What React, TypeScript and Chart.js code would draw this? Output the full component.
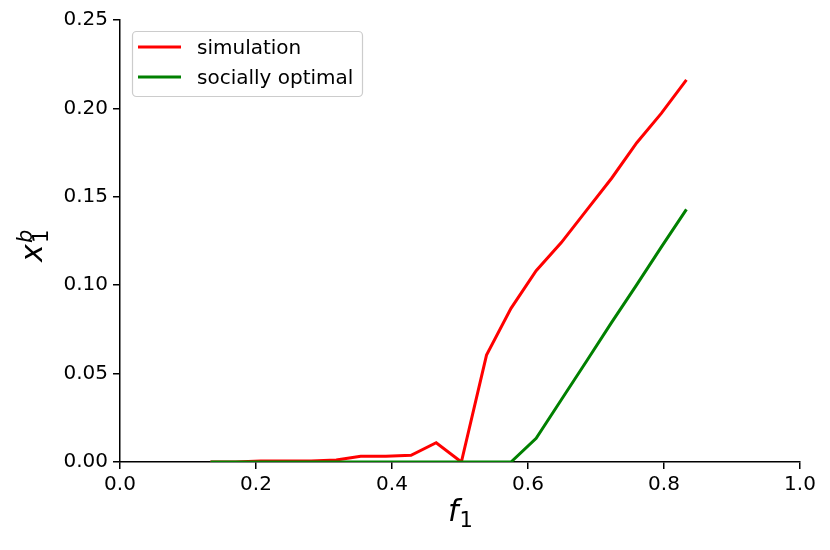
import React, { useEffect, useRef } from 'react';
import { Chart, ChartConfiguration, registerables } from 'chart.js';

Chart.register(...registerables);

// f_1 sample points (x axis)
const fValues = [
  0.133, 0.170, 0.207, 0.244, 0.281, 0.318, 0.354, 0.391, 0.428, 0.465,
  0.502, 0.539, 0.575, 0.612, 0.649, 0.686, 0.723, 0.760, 0.796, 0.833,
];

// x_1^b from the simulation
const simulation = [
  0, 0, 0.0005, 0.0005, 0.0005, 0.0011, 0.0032, 0.0032, 0.0038, 0.0109,
  0, 0.0605, 0.0869, 0.1082, 0.1241, 0.1423, 0.1605, 0.1806, 0.1972, 0.2161,
];

// x_1^b, socially optimal
const sociallyOptimal = [
  0, 0, 0, 0, 0, 0, 0, 0, 0, 0,
  0, 0, 0, 0.0134, 0.0352, 0.057, 0.079, 0.1003, 0.1215, 0.1429,
];

const seriesNames = ['simulation', 'socially optimal'];
const seriesColors = ['#ff0000', '#008000'];

const xTicks = [0, 0.2, 0.4, 0.6, 0.8, 1.0];
const yTicks = [0, 0.05, 0.1, 0.15, 0.2, 0.25];

const FONT = "'DejaVu Sans', sans-serif";

const toPoints = (ys: number[]) => fValues.map((x, i) => ({ x, y: ys[i] }));

const App: React.FC = () => {
  const canvasRef = useRef<HTMLCanvasElement | null>(null);
  const chartRef = useRef<Chart | null>(null);

  useEffect(() => {
    if (!canvasRef.current) return;
    const ctx = canvasRef.current.getContext('2d');
    if (!ctx) return;

    if (chartRef.current) chartRef.current.destroy();

    const axisGrid = {
      display: true,
      drawOnChartArea: false,
      drawTicks: true,
      tickLength: 7,
      color: '#000',
      lineWidth: 1.5,
    };

    const config: ChartConfiguration = {
      type: 'line',
      data: {
        datasets: [
          {
            label: seriesNames[0],
            data: toPoints(simulation),
            borderColor: seriesColors[0],
            borderWidth: 3,
            pointRadius: 0,
            tension: 0,
            fill: false,
            order: 1,
          },
          {
            label: seriesNames[1],
            data: toPoints(sociallyOptimal),
            borderColor: seriesColors[1],
            borderWidth: 3,
            pointRadius: 0,
            tension: 0,
            fill: false,
            order: 0,
          },
        ],
      },
      options: {
        animation: false,
        responsive: true,
        maintainAspectRatio: false,
        layout: { padding: { top: 20, right: 30, left: 0, bottom: 0 } },
        plugins: {
          legend: { display: false },
          tooltip: { enabled: false },
        },
        scales: {
          x: {
            type: 'linear',
            min: 0,
            max: 1,
            z: 1,
            afterFit: (scale: any) => {
              scale.height = 88;
            },
            afterBuildTicks: (scale: any) => {
              scale.ticks = xTicks.map(v => ({ value: v }));
            },
            grid: axisGrid,
            border: { display: true, color: '#000', width: 1.5 },
            ticks: {
              color: '#000',
              padding: 4,
              font: { family: FONT, size: 20 },
              callback: (v: any) => Number(v).toFixed(1),
            },
          },
          y: {
            type: 'linear',
            min: 0,
            max: 0.25,
            z: 1,
            afterFit: (scale: any) => {
              scale.width = 120;
            },
            afterBuildTicks: (scale: any) => {
              scale.ticks = yTicks.map(v => ({ value: v }));
            },
            grid: axisGrid,
            border: { display: true, color: '#000', width: 1.5 },
            ticks: {
              color: '#000',
              padding: 5,
              font: { family: FONT, size: 20 },
              callback: (v: any) => Number(v).toFixed(2),
            },
          },
        },
      },
    };

    chartRef.current = new Chart(ctx, config);

    return () => {
      if (chartRef.current) {
        chartRef.current.destroy();
        chartRef.current = null;
      }
    };
  }, []);

  return (
    <div style={{ position: 'absolute', left: 0, top: 0, width: 830, height: 550, background: '#fff' }}>
      <canvas ref={canvasRef} />
      <svg
        width={830}
        height={550}
        style={{ position: 'absolute', left: 0, top: 0, pointerEvents: 'none' }}
        fontFamily={FONT}
      >
        {/* legend */}
        <rect x={132.5} y={31.5} width={230} height={65} rx={4} fill="#fff" fillOpacity={0.8} stroke="#cccccc" strokeWidth={1.2} />
        {seriesNames.map((name, i) => (
          <g key={name}>
            <line x1={138} x2={181} y1={47 + i * 30} y2={47 + i * 30} stroke={seriesColors[i]} strokeWidth={3} />
            <text x={197} y={54 + i * 30} fontSize={20} fill="#000">{name}</text>
          </g>
        ))}
        {/* x axis title: f_1 */}
        <text x={448} y={521} fontSize={30} fill="#000">
          <tspan fontStyle="italic">f</tspan>
          <tspan fontSize={21} dy={6} dx={1}>1</tspan>
        </text>
        {/* y axis title: x_1^b */}
        <g transform="translate(42, 262) rotate(-90)">
          <text x={0} y={0} fontSize={30} fill="#000" fontStyle="italic">x</text>
          <text x={19} y={-10.5} fontSize={21} fill="#000" fontStyle="italic">b</text>
          <text x={19} y={6} fontSize={21} fill="#000">1</text>
        </g>
      </svg>
    </div>
  );
};

export default App;
